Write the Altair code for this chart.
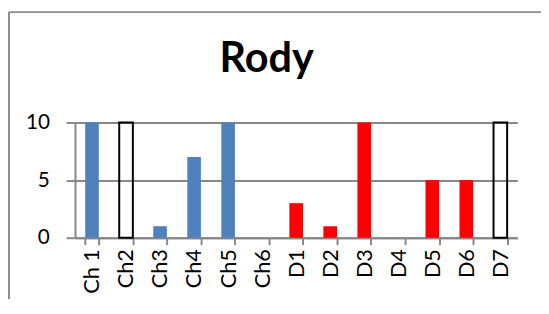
import altair as alt
import pandas as pd

# --- data ---
categories = ["Ch 1", "Ch2", "Ch3", "Ch4", "Ch5", "Ch6",
              "D1", "D2", "D3", "D4", "D5", "D6", "D7"]
values = [10, 10, 1, 7, 10, 0, 3, 1, 10, 0, 5, 5, 10]
series = ["Ch", "prázdné", "Ch", "Ch", "Ch", "Ch",
          "D", "D", "D", "D", "D", "D", "prázdné"]
y_ticks = [0, 5, 10]
title_text = "Rody"

df = pd.DataFrame({"kategorie": categories, "hodnota": values, "rada": series})

GRID = "#878787"
FONT = "Lato"

x_enc = alt.X(
    "kategorie:N",
    sort=categories,
    scale=alt.Scale(paddingInner=0.6, paddingOuter=0.3),
    axis=alt.Axis(
        title=None,
        labelAngle=270,
        labelFontSize=22,
        labelFont=FONT,
        labelColor="black",
        labelPadding=4,
        tickBand="extent",
        tickSize=7,
        tickWidth=2,
        tickColor=GRID,
        domainColor=GRID,
        domainWidth=2,
    ),
)
y_enc = alt.Y(
    "hodnota:Q",
    scale=alt.Scale(domain=[0, 10], nice=False),
    axis=alt.Axis(
        title=None,
        values=y_ticks,
        grid=True,
        gridColor=GRID,
        gridWidth=2,
        gridOpacity=1,
        tickSize=9,
        tickWidth=2,
        tickColor=GRID,
        domainColor=GRID,
        domainWidth=2,
        labelFontSize=21,
        labelFont=FONT,
        labelColor="black",
        labelPadding=17,
    ),
)

bars = alt.Chart(df).mark_bar(strokeWidth=2).encode(
    x=x_enc,
    y=y_enc,
    fill=alt.Fill("rada:N", legend=None,
                  scale=alt.Scale(domain=["Ch", "D", "prázdné"],
                                  range=["#4F81BD", "#FF0000", "transparent"])),
    stroke=alt.Stroke("rada:N", legend=None,
                      scale=alt.Scale(domain=["Ch", "D", "prázdné"],
                                      range=["transparent", "transparent", "black"])),
)

frame_df = pd.DataFrame({"f": [0]})
frame_top = alt.Chart(frame_df).mark_rule(color="#8c8c8c", strokeWidth=2).encode(
    x=alt.value(-67), x2=alt.value(480), y=alt.value(-112)
)
frame_left = alt.Chart(frame_df).mark_rule(color="#8c8c8c", strokeWidth=2).encode(
    x=alt.value(-67), y=alt.value(-112), y2=alt.value(180)
)

chart = alt.layer(bars, frame_top, frame_left).properties(
    width=449,
    height=117,
    title=alt.TitleParams(title_text, font=FONT, fontSize=42, fontWeight="bold",
                          color="black", anchor="middle", frame="group",
                          baseline="alphabetic", dx=-30, offset=0, dy=104),
    autosize=alt.AutoSizeParams(type="none"),
    padding={"left": 68, "top": 114, "right": 24, "bottom": 60},
    background="white",
).configure_view(stroke=None)

chart.save("out.html", embed_options={"renderer": "svg", "actions": False})
